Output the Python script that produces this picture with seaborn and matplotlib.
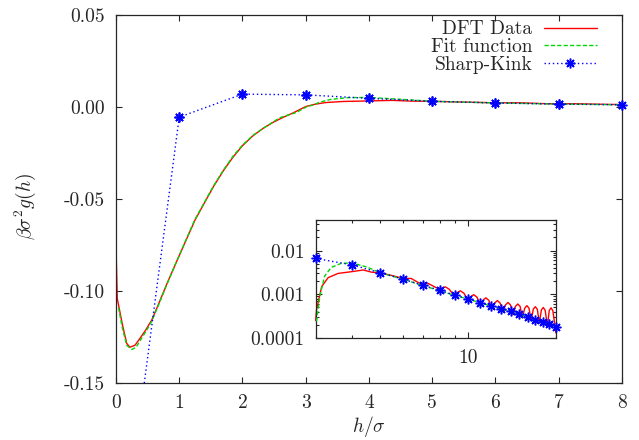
import matplotlib
matplotlib.use('Agg')
import matplotlib.pyplot as plt
from matplotlib import ticker
import seaborn as sns
import pandas as pd

OUTPUT_FILE = 'out.png'

# DFT data (h < 3) and the log inset (h >= 3)
dft_h = [0.0, 0.02, 0.1, 0.17, 0.22, 0.3, 0.38, 0.47, 0.565, 0.68, 0.8, 0.93,
         1.065, 1.25, 1.4, 1.54, 1.7, 1.856, 2.0, 2.17, 2.33, 2.49, 2.65, 2.8,
         3.0, 3.02, 3.146, 3.31, 3.58, 4.0, 4.37, 4.67, 5.0, 5.46,
         6.0, 6.38, 6.8, 7.29, 7.8,
         8.08, 8.35, 8.62, 8.9, 9.13, 9.4, 9.67, 9.95, 10.18, 10.45, 10.72, 11.0,
         11.23, 11.5, 11.77, 12.05, 12.33, 12.6, 12.87, 13.15, 13.43, 13.7, 13.97,
         14.25, 14.53, 14.8, 15.07, 15.35, 15.63, 15.9, 16.17, 16.45, 16.73, 17.0,
         17.27, 17.55, 17.83, 18.1, 18.37, 18.7, 18.98, 19.25, 19.52, 20.0]
dft_g = [-0.075, -0.104, -0.118, -0.1285, -0.1305, -0.1295, -0.1257, -0.1212,
         -0.1158, -0.1065, -0.0965, -0.0862, -0.0757, -0.0614, -0.052, -0.0433,
         -0.0345, -0.027, -0.021, -0.0155, -0.0115, -0.0082, -0.0055, -0.0032,
         0.00025, 0.00044, 0.0015, 0.0024, 0.0030, 0.0033, 0.0036, 0.0032, 0.0031,
         0.0027, 0.0023, 0.0023, 0.0018, 0.00177, 0.0014,
         0.00135, 0.00148, 0.0013, 0.00097, 0.00107, 0.0012, 0.00106, 0.00076,
         0.00087, 0.00098, 0.00086, 0.0006, 0.00073, 0.00083, 0.00073, 0.00048,
         0.00063, 0.00072, 0.00063, 0.0004, 0.00057, 0.00065, 0.00057, 0.00034,
         0.00053, 0.0006, 0.00053, 0.00029, 0.00048, 0.00055, 0.00048, 0.00025,
         0.00046, 0.00052, 0.00045, 0.00022, 0.00044, 0.0005, 0.00043, 0.00019,
         0.00043, 0.00049, 0.00042, 0.00013]

# fit function
fit_h = [0.04, 0.1, 0.17, 0.25, 0.32, 0.38, 0.47, 0.565, 0.68, 0.8, 0.93, 1.065,
         1.25, 1.4, 1.54, 1.7, 1.856, 2.0, 2.17, 2.33, 2.59, 2.85, 3.02, 3.1,
         3.22, 3.39, 3.67, 4.0, 4.5, 5.0, 6.0, 7.0, 8.0,
         9.0, 10.0, 11.0, 12.0, 13.0, 14.0, 15.0, 16.0, 17.0, 18.0, 19.0, 20.0]
fit_g = [-0.109, -0.120, -0.1295, -0.1318, -0.1305, -0.127, -0.1222, -0.1165,
         -0.107, -0.0968, -0.0862, -0.0755, -0.061, -0.0517, -0.043, -0.0342,
         -0.0265, -0.0207, -0.0153, -0.0115, -0.0058, -0.003, 0.00024, 0.0009,
         0.0026, 0.0041, 0.0051, 0.0052, 0.0042, 0.0031, 0.0022, 0.00158,
         0.0012, 0.00094, 0.00078, 0.00064, 0.00054, 0.00046, 0.0004, 0.00035,
         0.0003, 0.00026, 0.00023, 0.00021, 0.00018]

# sharp-kink approximation, integer h
kink_h = [0, 1, 2, 3, 4, 5, 6, 7, 8, 9, 10, 11, 12, 13, 14, 15, 16, 17, 18, 19, 20]
kink_g = [-0.267, -0.0055, 0.007, 0.0066, 0.0047, 0.0031, 0.0022, 0.0016, 0.00124,
          0.00095, 0.00079, 0.00064, 0.00054, 0.00047, 0.00041, 0.00035, 0.0003,
          0.00026, 0.00023, 0.00021, 0.00018]

main_xticks = [0, 1, 2, 3, 4, 5, 6, 7, 8]
main_yticks = [-0.15, -0.10, -0.05, 0.00, 0.05]
main_ytick_labels = ['-0.15', '-0.10', '-0.05', '0.00', '0.05']
inset_xticks = [10]
inset_xtick_labels = ['10']
inset_yticks = [0.0001, 0.001, 0.01]
inset_ytick_labels = ['0.0001', '0.001', '0.01']

RED = '#ff0000'
GREEN = '#00d800'
BLUE = '#0000ff'
STAR = (8, 2, 0)
MS = 7
MEW = 1.1


def draw_series(ax, dft, fit, kink, clip):
    sns.lineplot(data=dft, x='h', y='g', ax=ax, color=RED, lw=1.0,
                 label='DFT Data', clip_on=clip, zorder=2)
    sns.lineplot(data=fit, x='h', y='g', ax=ax, color=GREEN, lw=1.0,
                 linestyle=(0, (3.0, 1.6)), label='Fit function', clip_on=clip, zorder=3)
    sns.lineplot(data=kink, x='h', y='g', ax=ax, color=BLUE, lw=1.0,
                 linestyle=(0, (1.0, 2.0)), marker=STAR, markersize=MS,
                 markeredgewidth=MEW, markeredgecolor=BLUE,
                 label='Sharp-Kink', clip_on=clip, zorder=4)


def main():
    sns.set_style('ticks')
    plt.rcParams['font.family'] = ['cmr10', 'DejaVu Serif']
    plt.rcParams['mathtext.fontset'] = 'cm'
    plt.rcParams['axes.unicode_minus'] = False
    plt.rcParams['lines.scale_dashes'] = False
    plt.rcParams['font.size'] = 14

    dft = pd.DataFrame({'h': dft_h, 'g': dft_g})
    fit = pd.DataFrame({'h': fit_h, 'g': fit_g})
    kink = pd.DataFrame({'h': kink_h, 'g': kink_g})

    fig = plt.figure(figsize=(6.39, 4.40), dpi=100)
    ax = fig.add_axes([0.1815, 0.1295, 0.7919, 0.8364])
    draw_series(ax, dft, fit, kink, True)
    # keep the edge markers whole, like gnuplot does
    shown = kink[(kink['h'] >= 1) & (kink['h'] <= 8)]
    ax.plot(shown['h'], shown['g'], ls='none', marker=STAR, markersize=MS,
            markeredgewidth=MEW, color=BLUE, clip_on=False, zorder=5)

    ax.set_xlim(0, 8)
    ax.set_ylim(-0.15, 0.05)
    ax.set_xticks(main_xticks)
    ax.set_xticklabels([str(t) for t in main_xticks])
    ax.set_yticks(main_yticks)
    ax.set_yticklabels(main_ytick_labels)
    ax.tick_params(direction='in', length=4, width=0.8, top=True, right=True,
                   labelsize=14, pad=8)
    for s in ax.spines.values():
        s.set_linewidth(0.9)
    ax.set_xlabel(r'$h/\sigma$', fontsize=14)
    ax.set_ylabel(r'$\beta\sigma^2g(h)$', fontsize=14)
    ax.xaxis.set_label_coords(0.5, -0.085)
    ax.yaxis.set_label_coords(-0.155, 0.48)
    ax.legend(loc='upper right', bbox_to_anchor=(0.95, 0.985), frameon=False,
              markerfirst=False, handlelength=2.7, handletextpad=0.6,
              labelspacing=-0.02, borderpad=0, borderaxespad=0, numpoints=1,
              fontsize=14)

    # log-log inset of the tail
    pos = lambda d: d[(d['h'] >= 3) & (d['g'] > 0)]
    axin = fig.add_axes([0.494, 0.2318, 0.376, 0.2682])
    draw_series(axin, pos(dft), pos(fit), pos(kink), False)
    axin.set_xscale('log')
    axin.set_yscale('log')
    axin.set_xlim(3, 20)
    axin.set_ylim(0.0001, 0.05)
    axin.xaxis.set_major_locator(ticker.FixedLocator(inset_xticks))
    axin.xaxis.set_major_formatter(ticker.FixedFormatter(inset_xtick_labels))
    axin.yaxis.set_major_locator(ticker.FixedLocator(inset_yticks))
    axin.yaxis.set_major_formatter(ticker.FixedFormatter(inset_ytick_labels))
    for a in (axin.xaxis, axin.yaxis):
        a.set_minor_locator(ticker.LogLocator(subs=range(2, 10)))
        a.set_minor_formatter(ticker.NullFormatter())
    axin.tick_params(which='both', direction='in', top=True, right=True,
                     labelsize=14, pad=8, width=0.8)
    axin.tick_params(which='major', length=4)
    axin.tick_params(which='minor', length=2.2)
    axin.set_xlabel('')
    axin.set_ylabel('')
    axin.get_legend().remove()
    for s in axin.spines.values():
        s.set_linewidth(0.9)

    plt.savefig(OUTPUT_FILE, dpi=100)
    plt.close()


if __name__ == "__main__":
    main()
